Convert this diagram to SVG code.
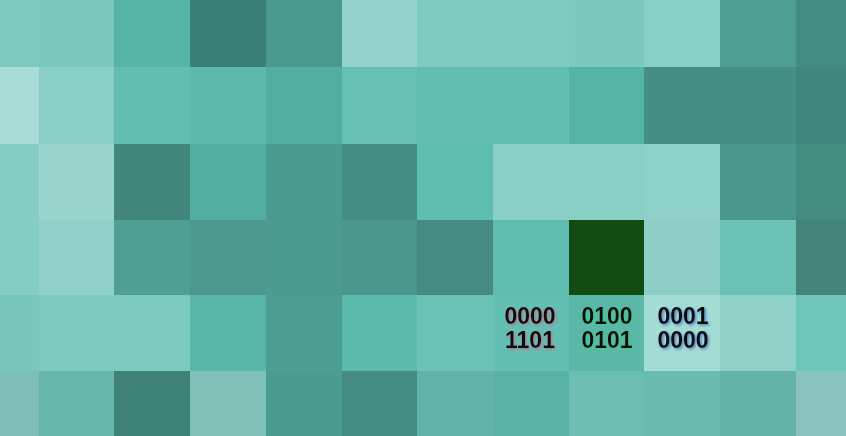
<svg xmlns="http://www.w3.org/2000/svg" width="846" height="436" viewBox="0 0 846 436">
<style>
.t{font-family:"Liberation Sans","DejaVu Sans",sans-serif;font-weight:bold;font-size:23px;fill:#0a0a0a;text-anchor:middle}
</style>
<defs>
<filter id="sr" x="-20%" y="-20%" width="140%" height="140%"><feDropShadow dx="1.5" dy="1.5" stdDeviation="1" flood-color="#d06080" flood-opacity="0.7"/></filter>
<filter id="sg" x="-20%" y="-20%" width="140%" height="140%"><feDropShadow dx="1.5" dy="1.5" stdDeviation="1" flood-color="#30d080" flood-opacity="0.6"/></filter>
<filter id="sb" x="-20%" y="-20%" width="140%" height="140%"><feDropShadow dx="1.5" dy="1.5" stdDeviation="1" flood-color="#4060c0" flood-opacity="0.7"/></filter>
</defs>
<g id="row0">
<rect x="0" y="0" width="39" height="67" fill="#7ccabd"/>
<rect x="39" y="0" width="75" height="67" fill="#7ac8bd"/>
<rect x="114" y="0" width="76" height="67" fill="#56b3a7"/>
<rect x="190" y="0" width="76" height="67" fill="#3c7f77"/>
<rect x="266" y="0" width="76" height="67" fill="#4a9a8f"/>
<rect x="342" y="0" width="75" height="67" fill="#93d3cb"/>
<rect x="417" y="0" width="76" height="67" fill="#7ccac0"/>
<rect x="493" y="0" width="76" height="67" fill="#7ccac0"/>
<rect x="569" y="0" width="75" height="67" fill="#7cc8bf"/>
<rect x="644" y="0" width="76" height="67" fill="#88cfc6"/>
<rect x="720" y="0" width="76" height="67" fill="#4d9f94"/>
<rect x="796" y="0" width="50" height="67" fill="#428c82"/>
</g>
<g id="row1">
<rect x="0" y="67" width="39" height="77" fill="#a8dcd7"/>
<rect x="39" y="67" width="75" height="77" fill="#8bd0c7"/>
<rect x="114" y="67" width="76" height="77" fill="#62bdb2"/>
<rect x="190" y="67" width="76" height="77" fill="#5db9ae"/>
<rect x="266" y="67" width="76" height="77" fill="#52ada2"/>
<rect x="342" y="67" width="75" height="77" fill="#66c0b5"/>
<rect x="417" y="67" width="76" height="77" fill="#62beb3"/>
<rect x="493" y="67" width="76" height="77" fill="#62beb3"/>
<rect x="569" y="67" width="75" height="77" fill="#55b4a8"/>
<rect x="644" y="67" width="76" height="77" fill="#458f84"/>
<rect x="720" y="67" width="76" height="77" fill="#458f84"/>
<rect x="796" y="67" width="50" height="77" fill="#42877d"/>
</g>
<g id="row2">
<rect x="0" y="144" width="39" height="76" fill="#85cdc4"/>
<rect x="39" y="144" width="75" height="76" fill="#98d4cc"/>
<rect x="114" y="144" width="76" height="76" fill="#41877c"/>
<rect x="190" y="144" width="76" height="76" fill="#52aea2"/>
<rect x="266" y="144" width="76" height="76" fill="#4a9b90"/>
<rect x="342" y="144" width="75" height="76" fill="#448e83"/>
<rect x="417" y="144" width="76" height="76" fill="#5ebdb1"/>
<rect x="493" y="144" width="76" height="76" fill="#89cfc6"/>
<rect x="569" y="144" width="75" height="76" fill="#89cfc6"/>
<rect x="644" y="144" width="76" height="76" fill="#8ed1c8"/>
<rect x="720" y="144" width="76" height="76" fill="#4a978d"/>
<rect x="796" y="144" width="50" height="76" fill="#448b80"/>
</g>
<g id="row3">
<rect x="0" y="220" width="39" height="75" fill="#85cdc4"/>
<rect x="39" y="220" width="75" height="75" fill="#8fd1c8"/>
<rect x="114" y="220" width="76" height="75" fill="#4f9f94"/>
<rect x="190" y="220" width="76" height="75" fill="#4d998f"/>
<rect x="266" y="220" width="76" height="75" fill="#4b9b90"/>
<rect x="342" y="220" width="75" height="75" fill="#4b978d"/>
<rect x="417" y="220" width="76" height="75" fill="#458b81"/>
<rect x="493" y="220" width="76" height="75" fill="#5ebcb1"/>
<rect x="569" y="220" width="75" height="75" fill="#124c12"/>
<rect x="644" y="220" width="76" height="75" fill="#8dcfc7"/>
<rect x="720" y="220" width="76" height="75" fill="#6ac1b6"/>
<rect x="796" y="220" width="50" height="75" fill="#438579"/>
</g>
<g id="row4">
<rect x="0" y="295" width="39" height="76" fill="#79c7bc"/>
<rect x="39" y="295" width="75" height="76" fill="#7ccabd"/>
<rect x="114" y="295" width="76" height="76" fill="#7ccabd"/>
<rect x="190" y="295" width="76" height="76" fill="#58b7aa"/>
<rect x="266" y="295" width="76" height="76" fill="#4c9e93"/>
<rect x="342" y="295" width="75" height="76" fill="#5abbad"/>
<rect x="417" y="295" width="76" height="76" fill="#6ac2b6"/>
<rect x="493" y="295" width="76" height="76" fill="#63bfb3"/>
<rect x="569" y="295" width="75" height="76" fill="#5bb8a8"/>
<rect x="644" y="295" width="76" height="76" fill="#a2dcd2"/>
<rect x="720" y="295" width="76" height="76" fill="#8fd0c7"/>
<rect x="796" y="295" width="50" height="76" fill="#6ec5b9"/>
</g>
<g id="row5">
<rect x="0" y="371" width="39" height="65" fill="#7dbfb6"/>
<rect x="39" y="371" width="75" height="65" fill="#68b7ab"/>
<rect x="114" y="371" width="76" height="65" fill="#3f8378"/>
<rect x="190" y="371" width="76" height="65" fill="#80c2b8"/>
<rect x="266" y="371" width="76" height="65" fill="#4a9b90"/>
<rect x="342" y="371" width="75" height="65" fill="#448b81"/>
<rect x="417" y="371" width="76" height="65" fill="#60b4a9"/>
<rect x="493" y="371" width="76" height="65" fill="#5ab2a6"/>
<rect x="569" y="371" width="75" height="65" fill="#6cbdb2"/>
<rect x="644" y="371" width="76" height="65" fill="#6abcb1"/>
<rect x="720" y="371" width="76" height="65" fill="#63b3a8"/>
<rect x="796" y="371" width="50" height="65" fill="#88c4bd"/>
</g>
<g id="labels">
<g id="label-a" filter="url(#sr)"><text class="t" x="530" y="324">0000</text><text class="t" x="530" y="348">1101</text></g>
<g id="label-b" filter="url(#sg)"><text class="t" x="607" y="324">0100</text><text class="t" x="607" y="348">0101</text></g>
<g id="label-c" filter="url(#sb)"><text class="t" x="683" y="324">0001</text><text class="t" x="683" y="348">0000</text></g>
</g>
</svg>
